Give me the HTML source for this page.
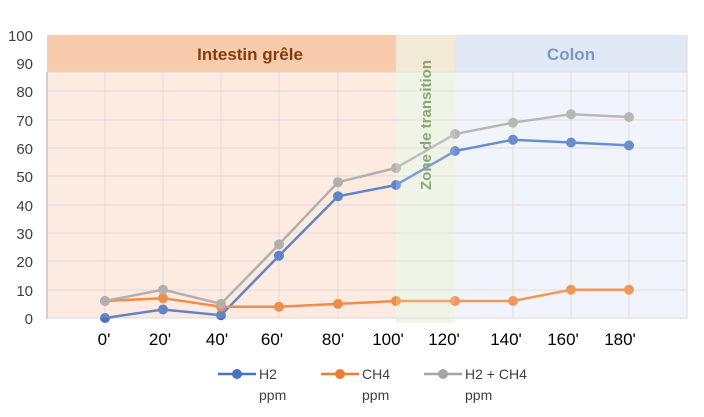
<!DOCTYPE html><html><head><style>body{margin:0;background:#fff}</style></head><body>
<svg width="704" height="412" xmlns="http://www.w3.org/2000/svg" font-family="Liberation Sans, sans-serif">
<rect x="47" y="35" width="349" height="283" fill="#fdebe2"/>
<rect x="47" y="35" width="349" height="37" fill="#f8cbad"/>
<rect x="396" y="35" width="59" height="288" fill="#e8efdc"/>
<rect x="396" y="35" width="59" height="37" fill="#ece0c6"/>
<rect x="455" y="35" width="232" height="283" fill="#eef2fa"/>
<rect x="455" y="35" width="232" height="37" fill="#dae3f3"/>
<g stroke="#dcd4d2" stroke-width="1">
<line x1="47" y1="72" x2="687" y2="72"/><line x1="47" y1="91" x2="687" y2="91"/><line x1="47" y1="120" x2="687" y2="120"/><line x1="47" y1="148" x2="687" y2="148"/><line x1="47" y1="176" x2="687" y2="176"/><line x1="47" y1="205" x2="687" y2="205"/><line x1="47" y1="233" x2="687" y2="233"/><line x1="47" y1="261" x2="687" y2="261"/><line x1="47" y1="290" x2="687" y2="290"/><line x1="47" y1="318" x2="687" y2="318"/>
<line x1="105" y1="72" x2="105" y2="318"/><line x1="163" y1="72" x2="163" y2="318"/><line x1="221" y1="72" x2="221" y2="318"/><line x1="279" y1="72" x2="279" y2="318"/><line x1="338" y1="72" x2="338" y2="318"/><line x1="513" y1="72" x2="513" y2="318"/><line x1="571" y1="72" x2="571" y2="318"/><line x1="629" y1="72" x2="629" y2="318"/><line x1="687" y1="35" x2="687" y2="318"/>
</g>
<line x1="47" y1="72" x2="47" y2="319" stroke="#c8c0bc" stroke-width="1.5"/>
<g font-size="15" fill="#404040" text-anchor="end">
<text x="33" y="41">100</text><text x="33" y="69">90</text><text x="33" y="97">80</text><text x="33" y="126">70</text><text x="33" y="154">60</text><text x="33" y="182">50</text><text x="33" y="211">40</text><text x="33" y="239">30</text><text x="33" y="267">20</text><text x="33" y="296">10</text><text x="33" y="324">0</text>
</g>
<text x="250" y="60" font-size="17" font-weight="bold" fill="#843c0c" text-anchor="middle">Intestin grêle</text>
<text x="571" y="60" font-size="17" font-weight="bold" fill="#5b82ad" text-anchor="middle">Colon</text>
<text transform="translate(431,190) rotate(-90)" font-size="15" font-weight="bold" fill="#548235">Zone de transition</text>
<g font-size="17" fill="#000" text-anchor="middle">
<text x="104" y="345">0'</text><text x="160" y="345">20'</text><text x="217" y="345">40'</text><text x="272" y="345">60'</text><text x="333" y="345">80'</text><text x="388" y="345">100'</text><text x="444" y="345">120'</text><text x="506" y="345">140'</text><text x="563" y="345">160'</text><text x="620" y="345">180'</text>
</g>
<g stroke-width="2.5" fill="none">
<polyline stroke="#4472c4" points="105,318 163,309.5 221,315.2 279,255.7 338,196.3 396,185 455,151 513,139.7 571,142.5 629,145.4"/>
<polyline stroke="#ed7d31" points="105,301 163,298.2 221,306.7 279,306.7 338,303.9 396,301 455,301 513,301 571,289.7 629,289.7"/>
<polyline stroke="#a5a5a5" points="105,301 163,289.7 221,303.9 279,244.4 338,182.2 396,168 455,134 513,122.7 571,114.2 629,117"/>
</g>
<g fill="#4472c4"><circle cx="105" cy="318" r="5"/><circle cx="163" cy="309.5" r="5"/><circle cx="221" cy="315.2" r="5"/><circle cx="279" cy="255.7" r="5"/><circle cx="338" cy="196.3" r="5"/><circle cx="396" cy="185" r="5"/><circle cx="455" cy="151" r="5"/><circle cx="513" cy="139.7" r="5"/><circle cx="571" cy="142.5" r="5"/><circle cx="629" cy="145.4" r="5"/></g>
<g fill="#ed7d31"><circle cx="105" cy="301" r="5"/><circle cx="163" cy="298.2" r="5"/><circle cx="221" cy="306.7" r="5"/><circle cx="279" cy="306.7" r="5"/><circle cx="338" cy="303.9" r="5"/><circle cx="396" cy="301" r="5"/><circle cx="455" cy="301" r="5"/><circle cx="513" cy="301" r="5"/><circle cx="571" cy="289.7" r="5"/><circle cx="629" cy="289.7" r="5"/></g>
<g fill="#a5a5a5"><circle cx="105" cy="301" r="5"/><circle cx="163" cy="289.7" r="5"/><circle cx="221" cy="303.9" r="5"/><circle cx="279" cy="244.4" r="5"/><circle cx="338" cy="182.2" r="5"/><circle cx="396" cy="168" r="5"/><circle cx="455" cy="134" r="5"/><circle cx="513" cy="122.7" r="5"/><circle cx="571" cy="114.2" r="5"/><circle cx="629" cy="117" r="5"/></g>
<rect x="47" y="72" width="349" height="246" fill="#fdebe2" opacity="0.15"/>
<rect x="396" y="35" width="59" height="288" fill="#ffffff" opacity="0.3"/>
<rect x="455" y="35" width="232" height="283" fill="#ffffff" opacity="0.2"/>
<g stroke-width="2.5">
<line x1="218" y1="374" x2="256" y2="374" stroke="#4472c4"/><circle cx="237" cy="374" r="5" fill="#4472c4"/>
<line x1="321" y1="374" x2="359" y2="374" stroke="#ed7d31"/><circle cx="340" cy="374" r="5" fill="#ed7d31"/>
<line x1="424" y1="374" x2="462" y2="374" stroke="#a5a5a5"/><circle cx="443" cy="374" r="5" fill="#a5a5a5"/>
</g>
<g font-size="14" fill="#404040">
<text x="259" y="379">H2</text><text x="259" y="400">ppm</text>
<text x="362" y="379">CH4</text><text x="362" y="400">ppm</text>
<text x="465" y="379">H2 + CH4</text><text x="465" y="400">ppm</text>
</g>
</svg>
</body></html>
